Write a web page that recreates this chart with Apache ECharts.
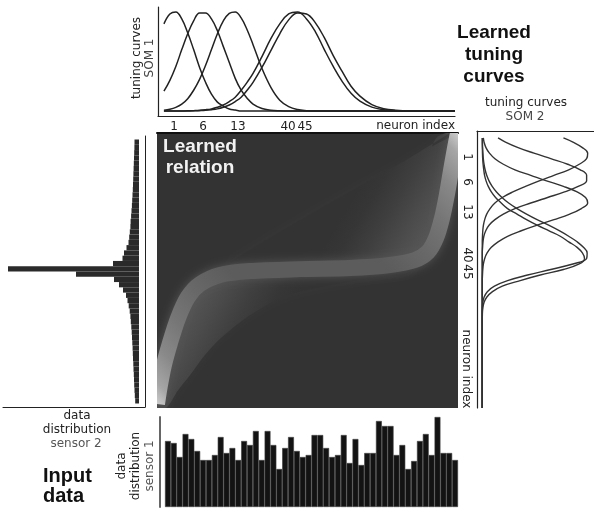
<!DOCTYPE html>
<html><head><meta charset="utf-8">
<script src="https://cdn.jsdelivr.net/npm/echarts@6/dist/echarts.min.js"></script>
<style>html,body{margin:0;padding:0;background:#fff}#c{width:594px;height:510px}</style>
</head><body><div id="c"></div><script>
// ---- SOM 1 tuning curves (top panel): response vs neuron index ----
const som1Index = [2,4,6,8,10,12,14,16,18,20,22,24,26,28,30,32,35,38,41,44,47,50,53,56,59,62,65,68,72,76,80,85,90,95,100];
const som1Curve1 = [0.88,0.98,1.00,0.93,0.79,0.62,0.44,0.29,0.17,0.09,0.05,0.02,0.01,0,0,0,0,0,0,0,0,0,0,0,0,0,0,0,0,0,0,0,0,0,0];
const som1Curve6 = [0.20,0.31,0.45,0.62,0.78,0.91,0.99,0.99,0.93,0.81,0.65,0.49,0.33,0.21,0.13,0.07,0.025,0.008,0.002,0,0,0,0,0,0,0,0,0,0,0,0,0,0,0,0];
const som1Curve13 = [0.008,0.018,0.037,0.07,0.125,0.21,0.32,0.46,0.62,0.78,0.91,0.985,1.0,0.94,0.82,0.67,0.43,0.24,0.11,0.045,0.015,0.004,0,0,0,0,0,0,0,0,0,0,0,0,0];
const som1Curve40 = [0,0,0,0.001,0.002,0.004,0.007,0.013,0.022,0.038,0.061,0.096,0.14,0.21,0.29,0.38,0.55,0.73,0.88,0.98,1.0,0.93,0.80,0.62,0.45,0.30,0.18,0.10,0.04,0.014,0.004,0,0,0,0];
const som1Curve45 = [0,0,0,0,0.001,0.002,0.004,0.007,0.013,0.022,0.038,0.061,0.096,0.14,0.21,0.29,0.44,0.61,0.78,0.92,0.99,0.98,0.89,0.74,0.56,0.40,0.25,0.15,0.064,0.024,0.008,0.001,0,0,0];
const som1TickPos = [5.4,15.2,26.9,43.8,49.5];
const som1TickLabels = ['1','6','13','40','45'];

// ---- SOM 2 tuning curves (right panel): neuron index vs response ----
const som2Index = [2.5,4,6,8,10,12,14,16,18,20,22,24,26,28,30,32,34,36,38,40,42,44,46,48,50,52,54,56,58,60,62,64,66,70,80,90,100];
const som2Curve1 = [0.77,0.86,0.95,1.0,0.99,0.92,0.82,0.68,0.54,0.41,0.29,0.19,0.12,0.074,0.042,0.023,0.011,0.005,0.002,0,0,0,0,0,0,0,0,0,0,0,0,0,0,0,0,0,0];
const som2Curve6 = [0.15,0.22,0.34,0.49,0.65,0.81,0.93,0.99,0.99,0.91,0.78,0.62,0.46,0.31,0.20,0.12,0.064,0.033,0.015,0.007,0.003,0,0,0,0,0,0,0,0,0,0,0,0,0,0,0,0];
const som2Curve13 = [0.01,0.017,0.035,0.068,0.12,0.20,0.31,0.46,0.61,0.77,0.90,0.98,1.0,0.94,0.83,0.68,0.52,0.37,0.24,0.15,0.086,0.046,0.023,0.011,0.005,0.002,0,0,0,0,0,0,0,0,0,0,0];
const som2Curve40 = [0.001,0.002,0.003,0.006,0.01,0.017,0.027,0.042,0.064,0.094,0.135,0.187,0.25,0.33,0.42,0.52,0.63,0.73,0.82,0.90,0.96,0.995,0.99,0.86,0.65,0.43,0.24,0.115,0.048,0.017,0.005,0.001,0,0,0,0,0];
const som2Curve45 = [0,0,0.001,0.002,0.004,0.008,0.014,0.022,0.036,0.057,0.086,0.126,0.18,0.24,0.33,0.42,0.52,0.63,0.74,0.82,0.90,0.95,0.97,0.92,0.77,0.55,0.36,0.19,0.097,0.042,0.016,0.005,0.001,0,0,0,0];
const som2TickPos = [9.4,18.4,29.2,44.8,50.9];
const som2TickLabels = ['1','6','13','40','45'];

// ---- Learned relation (heatmap band), in SOM1 index (x) / SOM2 index (y, bottom-up) ----
const relationRidge = [[0,1.5],[1.0,8.4],[2.3,15.6],[4.3,23.6],[7.0,32.7],[10.3,40.4],[14.3,45.1],[20.9,48.4],[30.9,49.8],[47.5,50.5],[64.1,50.9],[77.4,52.0],[85.7,53.8],[90.0,56.7],[92.7,61.8],[94.7,69.1],[96.3,77.5],[97.7,86.5],[99.0,94.5],[100,100]];
const relationLowerEdge = [[3.0,0],[7.0,6.5],[11.0,12.0],[15.9,19.3],[21.6,25.8],[30.9,33.8],[41.9,40.4],[53.2,43.6],[64.1,45.8],[75.1,47.6],[84.1,49.1]];
const relationUpperEdge = [[97.3,100],[93.0,98.5],[89.7,91.3],[82.4,81.1],[75.1,70.9],[59.8,63.6],[47.5,58.2],[35.2,54.9],[24.3,53.1]];

// ---- Input data distributions ----
const sensor1Bins = [66,64,50,73,68,56,47,47,52,70,54,59,47,66,62,76,47,76,62,38,59,70,56,50,52,72,72,59,50,52,72,44,68,42,54,54,86,81,81,52,62,38,46,66,73,52,90,54,54,47];
const sensor2Bins = [4.5,4.6,4.8,5,5.2,5.4,5.6,5.8,6,6.2,6.5,6.8,7.1,7.5,7.9,8.4,8.6,9.2,9.8,10.5,12.5,15,16.5,26,131,63,25,20,16,13,11.5,10.3,9.3,8.6,8.2,7.7,7.3,7,6.7,6.4,6.2,6,5.7,5.5,5.2,5,4.8,4.5,4.2,3.8];
const binNames = sensor1Bins.map((_, i) => String(i + 1));

const FONT = 'DejaVu Sans';
const BOLD = 'Liberation Sans';
const frameLine = {show:true, onZero:false, lineStyle:{color:'#222', width:1.2}};
const noAxisBits = {axisTick:{show:false}, axisLabel:{show:false}, splitLine:{show:false}};

function pick(pos, labels) {
  return v => { let best = 0; pos.forEach((p, i) => { if (Math.abs(p - v) < Math.abs(pos[best] - v)) best = i; }); return labels[best]; };
}

const som1Series = [som1Curve1, som1Curve6, som1Curve13, som1Curve40, som1Curve45].map(c => ({
  type:'line', xAxisIndex:0, yAxisIndex:0, showSymbol:false, smooth:0.4,
  lineStyle:{color:'#222', width:1.5}, data: som1Index.map((x, i) => [x, c[i]])
}));
const som2Series = [som2Curve1, som2Curve6, som2Curve13, som2Curve40, som2Curve45].map(c => ({
  type:'line', xAxisIndex:2, yAxisIndex:2, showSymbol:false, smooth:0.4,
  lineStyle:{color:'#333', width:1.4}, data: som2Index.map((y, i) => [c[i], y])
}));

const fadeStops = [
  {offset:0.12, color:'#5c5c5c'}, {offset:0.24, color:'#4c4c4c'}, {offset:0.33, color:'#3f3f3f'},
  {offset:0.41, color:'#363636'}, {offset:0.47, color:'#333333'}, {offset:1, color:'#333333'}
];
const bandSeries = {
  type:'custom', xAxisIndex:1, yAxisIndex:1, clip:true, silent:true, data:[[0,0]],
  renderItem(params, api) {
    const pts = arr => arr.map(p => api.coord(p));
    const lowerPoly = pts(relationRidge.filter(p => p[0] <= 86).concat([...relationLowerEdge].reverse(), [[0,0]]));
    const upperPoly = pts(relationRidge.filter(p => p[0] >= 20).concat([...relationUpperEdge].reverse()));
    const ridge = pts(relationRidge);
    const lowerFill = new echarts.graphic.LinearGradient(0, 0, 1, 1, fadeStops);
    const upperFill = new echarts.graphic.LinearGradient(1, 1, 0, 0, fadeStops);
    const grad = new echarts.graphic.LinearGradient(0, 1, 1, 0, [
      {offset:0, color:'#f0f0f0'}, {offset:0.03, color:'#c8c8c8'}, {offset:0.06, color:'#a5a5a5'},
      {offset:0.12, color:'#888888'}, {offset:0.19, color:'#767676'}, {offset:0.27, color:'#686868'},
      {offset:0.36, color:'#5c5c5c'}, {offset:0.64, color:'#5c5c5c'}, {offset:0.73, color:'#686868'},
      {offset:0.81, color:'#767676'}, {offset:0.88, color:'#888888'}, {offset:0.94, color:'#a5a5a5'},
      {offset:0.97, color:'#c8c8c8'}, {offset:1, color:'#f0f0f0'}
    ]);
    return {type:'group', children:[
      {type:'polygon', shape:{points:lowerPoly, smooth:0.3}, style:{fill:lowerFill, shadowBlur:10, shadowColor:'#383838'}},
      {type:'polygon', shape:{points:upperPoly, smooth:0.3}, style:{fill:upperFill, shadowBlur:10, shadowColor:'#383838'}},
      {type:'polyline', shape:{points:ridge, smooth:0.3}, style:{fill:'none', stroke:grad, lineWidth:16, lineJoin:'round', shadowBlur:10, shadowColor:'#555555'}}
    ]};
  }
};

const txt = (text, x, y, extra) => ({type:'text', x, y, z:100,
  style:Object.assign({text, fontFamily:FONT, fontSize:12, fill:'#222', align:'center', verticalAlign:'middle'}, extra || {})});

const option = {
  animation:false,
  backgroundColor:'#fff',
  grid:[
    {left:158, top:7, width:297, height:109},
    {left:157, top:133, width:301, height:275, show:true, backgroundColor:'#333', borderWidth:0},
    {left:477, top:131, width:117, height:277},
    {left:3, top:139.5, width:136, height:264},
    {left:3, top:136, width:142, height:271},
    {left:165, top:417, width:293, height:90}
  ],
  xAxis:[
    Object.assign({gridIndex:0, type:'value', min:0, max:100, axisLine:frameLine}, noAxisBits,
      {axisLabel:{show:true, customValues:som1TickPos, formatter:pick(som1TickPos, som1TickLabels), margin:5, fontFamily:FONT, fontSize:12, color:'#222'}}),
    Object.assign({gridIndex:1, type:'value', min:0, max:100, position:'top', axisLine:{show:true, onZero:false, lineStyle:{color:'#111', width:2}}}, noAxisBits),
    Object.assign({gridIndex:2, type:'value', min:-0.05, max:1.06, position:'top', axisLine:frameLine}, noAxisBits),
    {gridIndex:3, type:'value', inverse:true, min:0, max:136, show:false},
    Object.assign({gridIndex:4, type:'value', min:0, max:1, position:'bottom', axisLine:{show:true, onZero:false, lineStyle:{color:'#222', width:1}}}, noAxisBits),
    {gridIndex:5, type:'category', data:binNames, show:false}
  ],
  yAxis:[
    Object.assign({gridIndex:0, type:'value', min:-0.05, max:1.05, axisLine:frameLine}, noAxisBits),
    {gridIndex:1, type:'value', min:0, max:100, show:false},
    Object.assign({gridIndex:2, type:'value', inverse:true, min:0, max:100, position:'left', axisLine:frameLine}, noAxisBits,
      {axisLabel:{show:true, customValues:som2TickPos, formatter:pick(som2TickPos, som2TickLabels), rotate:-90, margin:4, fontFamily:FONT, fontSize:12, color:'#222'}}),
    {gridIndex:3, type:'category', data:binNames, inverse:true, show:false},
    Object.assign({gridIndex:4, type:'value', min:0, max:1, position:'right', axisLine:{show:true, onZero:false, lineStyle:{color:'#222', width:1}}}, noAxisBits),
    Object.assign({gridIndex:5, type:'value', min:0, max:90, offset:5, axisLine:{show:true, onZero:false, lineStyle:{color:'#666', width:2}}}, noAxisBits)
  ],
  series:[
    ...som1Series,
    bandSeries,
    ...som2Series,
    {type:'bar', xAxisIndex:3, yAxisIndex:3, data:sensor2Bins, barCategoryGap:'0%', itemStyle:{color:'#2a2a2a'}},
    {type:'bar', xAxisIndex:5, yAxisIndex:5, data:sensor1Bins, barCategoryGap:'0%', itemStyle:{color:'#131313', borderColor:'#3a3a3a', borderWidth:0.6}}
  ],
  graphic:[
    txt('tuning curves', 137, 58, {}), 
    txt('SOM 1', 150, 58, {fill:'#444'}),
    txt('Learned\ntuning\ncurves', 494, 55, {fontFamily:BOLD, fontWeight:'bold', fontSize:19, lineHeight:22, fill:'#111'}),
    txt('neuron index', 455, 126, {align:'right'}),
    txt('tuning curves', 526, 103, {}),
    txt('SOM 2', 525, 117, {fill:'#444'}),
    txt('neuron index', 466, 369, {}),
    txt('Learned\nrelation', 200, 157, {fontFamily:BOLD, fontWeight:'bold', fontSize:19, lineHeight:21, fill:'#f2f2f2'}),
    txt('data', 77, 416, {}),
    txt('distribution', 77, 430, {}),
    txt('sensor 2', 76, 444, {fill:'#555'}),
    txt('Input\ndata', 43, 486, {align:'left', fontFamily:BOLD, fontWeight:'bold', fontSize:20, lineHeight:20, fill:'#111'}),
    txt('data', 122, 466, {}),
    txt('distribution', 136, 466, {}),
    txt('sensor 1', 150, 466, {fill:'#555'})
  ].map((g, i) => {
    if ([0,1].includes(i) || i >= 12) g.rotation = Math.PI / 2;
    if (i === 6) g.rotation = -Math.PI / 2;
    return g;
  })
};
const chart = echarts.init(document.getElementById('c'), null, {renderer:'canvas'});
chart.setOption(option);
</script></body></html>
